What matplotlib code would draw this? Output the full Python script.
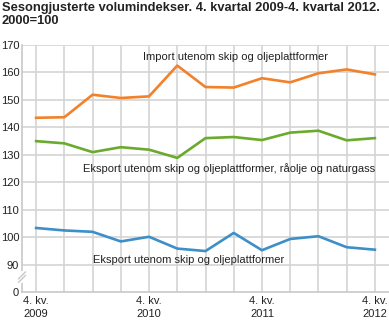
import numpy as np
import matplotlib
matplotlib.use("Agg")
import matplotlib.pyplot as plt

plt.rcParams['font.family'] = ['Liberation Sans', 'DejaVu Sans']

quarters = list(range(13))
tick_pos = [0, 4, 8, 12]
tick_labels = ['4. kv.\n2009', '4. kv.\n2010', '4. kv.\n2011', '4. kv.\n2012']

import_vals = [143.4, 143.6, 151.8, 150.6, 151.2, 162.4, 154.6, 154.4, 157.8, 156.3, 159.6, 161.0, 159.2]
eksport_olje = [134.9, 134.1, 130.9, 132.7, 131.8, 128.8, 136.0, 136.4, 135.3, 138.0, 138.7, 135.2, 136.0]
eksport = [103.3, 102.4, 101.9, 98.4, 100.1, 95.8, 94.9, 101.5, 95.2, 99.3, 100.3, 96.3, 95.4]

yticks = [80, 90, 100, 110, 120, 130, 140, 150, 160, 170]
ylabels = ['0', '90', '100', '110', '120', '130', '140', '150', '160', '170']

fig = plt.figure(figsize=(3.89, 3.22), dpi=100)
ax = fig.add_axes([22 / 389, 1 - 292 / 322, 1 - 22 / 389, (292 - 44.7) / 322])

grid_c = '#d4d4d4'
for y in yticks[1:]:
    ax.axhline(y, color=grid_c, lw=1.2, zorder=0)
for x in quarters:
    ax.axvline(x, color=grid_c, lw=1.2, zorder=0)

ax.plot(quarters, import_vals, color='#f2812a', lw=1.9, zorder=3)
ax.plot(quarters, eksport_olje, color='#6aaa2c', lw=1.9, zorder=3)
ax.plot(quarters, eksport, color='#3c8fc8', lw=1.9, zorder=3)

ax.set_xlim(-0.5, 12.5)
ax.set_ylim(80, 170)
ax.set_yticks(yticks)
ax.set_yticklabels(ylabels)
ax.set_xticks(tick_pos)
ax.set_xticklabels(tick_labels, linespacing=1.3)
ax.tick_params(length=0, labelsize=8, colors='#222222', pad=3)
ax.tick_params(axis='y', pad=2)
for s in ['top', 'right']:
    ax.spines[s].set_visible(False)
ax.spines['left'].set_color('#c8c8c8')
ax.spines['bottom'].set_color('#c8c8c8')
ax.spines['left'].set_linewidth(1.2)
ax.spines['bottom'].set_linewidth(1.2)

# axis break marks
for dy in [0, 1.3]:
    ax.plot([-0.62, -0.38], [83.5 + dy, 86.0 + dy], color='#c8c8c8', lw=1.0,
            clip_on=False, zorder=5)
ax.fill([-0.5, -0.45, -0.5, -0.55], [83.3, 86.5, 87.6, 84.4], color='white',
        clip_on=False, zorder=4)

ax.text(3.8, 165.5, 'Import utenom skip og oljeplattformer', fontsize=8,
        va='center', ha='left', color='#222222')
ax.text(1.67, 125.1, 'Eksport utenom skip og oljeplattformer, råolje og naturgass',
        fontsize=8, va='center', ha='left', color='#222222')
ax.text(2.02, 91.7, 'Eksport utenom skip og oljeplattformer', fontsize=8,
        va='center', ha='left', color='#222222')

fig.text(2 / 389, 1 - 2 / 322,
         'Sesongjusterte volumindekser. 4. kvartal 2009-4. kvartal 2012.\n2000=100',
         fontsize=9.3, fontweight='bold', va='top', ha='left', color='#222222',
         linespacing=1.15)

fig.savefig('out.png', dpi=100)
